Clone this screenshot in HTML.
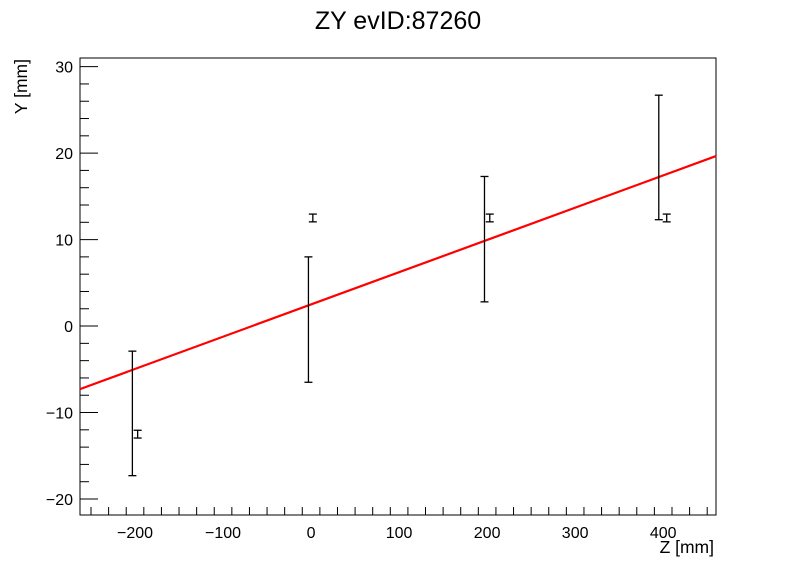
<!DOCTYPE html>
<html><head><meta charset="utf-8"><style>
body{margin:0;background:#fff;width:796px;height:572px;overflow:hidden}
text{font-family:"Liberation Sans",sans-serif}
</style></head><body>
<svg id="c" width="796" height="572" xmlns="http://www.w3.org/2000/svg">
<text x="398" y="29" text-anchor="middle" font-size="25">ZY evID:87260</text>
<text x="714" y="553" text-anchor="end" font-size="17.5">Z [mm]</text>
<text transform="translate(27,59) rotate(-90)" text-anchor="end" font-size="17.5">Y [mm]</text>
<rect x="80" y="58" width="636" height="457" fill="none" stroke="#000"/>
<g id="ax"></g><g id="marks"></g>
</svg>
<script>
const xTicks=[-200,-100,0,100,200,300,400];
const yTicks=[-20,-10,0,10,20,30];
const bigZ=[-203,-3,197,395];
const bigLo=[-17.3,-6.5,2.8,12.3];
const bigHi=[-2.9,8.0,17.3,26.7];
const smallZ=[-197,2,203,404];
const smallY=[-12.5,12.5,12.5,12.5];
const smallErr=[0.45,0.45,0.45,0.45];
const fitSlope=0.0373, fitIntercept=2.5;
const zMin=-262.5,zMax=460,yMin=-21.85,yMax=31;
const X=z=>80+(z-zMin)/(zMax-zMin)*636;
const Y=v=>515-(v-yMin)/(yMax-yMin)*457;
const NS='http://www.w3.org/2000/svg';
function mk(t,a,p){const e=document.createElementNS(NS,t);for(const k in a)e.setAttribute(k,a[k]);p.appendChild(e);return e;}
const ax=document.getElementById('ax'),mg=document.getElementById('marks');
for(let z=-250;z<=460;z+=20){const big=z%100===0;const l=mk('line',{x1:X(z),x2:X(z),y1:515,y2:515-(big?15:8),stroke:'#000'},ax);

}
xTicks.forEach(v=>{const t=mk('text',{x:X(v),y:538,'text-anchor':'middle','font-size':16},ax);t.textContent=v<0?'\u2212'+(-v):v;

});
for(let v=-20;v<=31;v+=2){const big=v%10===0;const l=mk('line',{x1:80,x2:80+(big?18:9),y1:Y(v),y2:Y(v),stroke:'#000'},ax);

}
yTicks.forEach(v=>{const t=mk('text',{x:73,y:Y(v)+6,'text-anchor':'end','font-size':16},ax);t.textContent=v<0?'\u2212'+(-v):v;

});
const fit=mk('line',{x1:X(zMin),y1:Y(fitIntercept+fitSlope*zMin),x2:X(zMax),y2:Y(fitIntercept+fitSlope*zMax),stroke:'#f00','stroke-width':2.2},mg);


function bar(x,lo,hi,name){const g=mk('g',{stroke:'#000','stroke-width':1.3},mg);


mk('line',{x1:x,x2:x,y1:Y(lo),y2:Y(hi)},g);mk('line',{x1:x-4,x2:x+4,y1:Y(lo),y2:Y(lo)},g);mk('line',{x1:x-4,x2:x+4,y1:Y(hi),y2:Y(hi)},g);}
bigZ.forEach((z,i)=>bar(X(z),bigLo[i],bigHi[i],'wide-error-bar'));
smallZ.forEach((z,i)=>bar(X(z),smallY[i]-smallErr[i],smallY[i]+smallErr[i],'small-error-bar'));
</script>
</body></html>
